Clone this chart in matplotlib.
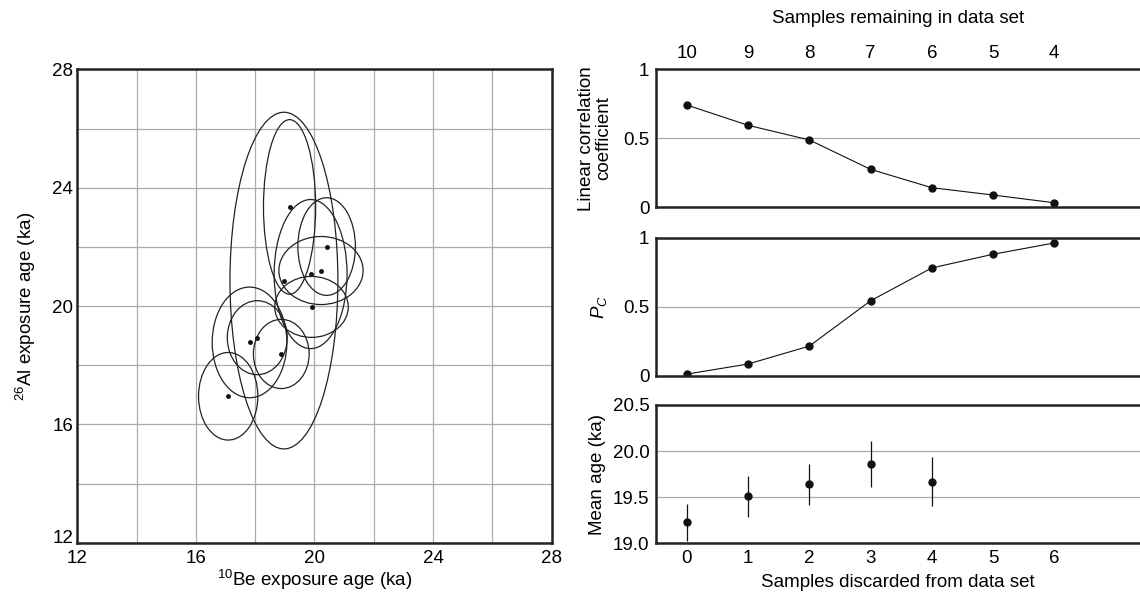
import numpy as np
import matplotlib.pyplot as plt
from matplotlib.patches import Ellipse

plt.rcParams['font.family'] = ['Liberation Sans', 'DejaVu Sans']
plt.rcParams['mathtext.fontset'] = 'custom'
plt.rcParams['mathtext.rm'] = 'Liberation Sans'
plt.rcParams['mathtext.it'] = 'Liberation Sans:italic'
fs = 13.5
plt.rcParams['font.size'] = fs

# %% Data
be10_age = [19.16, 20.41, 20.22, 19.87, 18.97, 19.90, 18.07, 17.81, 18.88, 17.09]
al26_age = [23.35, 22.01, 21.20, 21.08, 20.86, 19.97, 18.93, 18.77, 18.38, 16.95]
be10_err = [0.88, 0.97, 1.42, 1.23, 1.82, 1.24, 1.01, 1.26, 0.94, 1.00]
al26_err = [2.95, 1.65, 1.15, 2.52, 5.69, 1.03, 1.25, 1.87, 1.17, 1.48]

discarded = [0, 1, 2, 3, 4, 5, 6]
remaining = ['10', '9', '8', '7', '6', '5', '4']
corr_coef = [0.741, 0.594, 0.488, 0.275, 0.142, 0.089, 0.033]
p_c = [0.012, 0.085, 0.215, 0.543, 0.781, 0.880, 0.962]
mean_x = [0, 1, 2, 3, 4]
mean_age = [19.23, 19.51, 19.64, 19.86, 19.67]
mean_err = [0.20, 0.22, 0.225, 0.245, 0.27]

gridc = '#ababab'
spine_lw = 1.8

# %% Figure
fig = plt.figure(figsize=(11.4, 6.03), dpi=100)

# Left: ellipse plot
axL = fig.add_axes([0.0678, 0.100, 0.4161, 0.785])
axL.set_xlim(12, 28)
axL.set_ylim(12, 28)
axL.set_xticks(np.arange(12, 29, 2), minor=True)
axL.set_yticks(np.arange(12, 29, 2), minor=True)
axL.set_xticks([12, 16, 20, 24, 28])
axL.set_yticks([12, 16, 20, 24, 28])
axL.grid(which='both', color=gridc, lw=0.9)
axL.set_axisbelow(True)
axL.tick_params(which='both', length=0, pad=3, labelsize=fs)
axL.tick_params(axis='x', pad=5)
for s in axL.spines.values():
    s.set_linewidth(spine_lw)
    s.set_color('#222222')
# corner label sits on the axis line, like the reference
axL.get_yticklabels()[0].set_va('baseline')

for xc, yc, ex, ey in zip(be10_age, al26_age, be10_err, al26_err):
    axL.add_patch(Ellipse((xc, yc), 2 * ex, 2 * ey, fill=False,
                          edgecolor='#222222', lw=0.9))
axL.plot(be10_age, al26_age, 'o', color='#111111', ms=2.5)

axL.set_xlabel(r'$^{10}$Be exposure age (ka)', fontsize=fs, labelpad=1)
axL.set_ylabel(r'$^{26}$Al exposure age (ka)', fontsize=fs, labelpad=10)


def style_right(ax):
    ax.set_xlim(-0.5, 7.4)
    ax.grid(axis='y', color=gridc, lw=0.9)
    ax.set_axisbelow(True)
    ax.tick_params(length=0, pad=5, labelsize=fs)
    ax.spines['right'].set_visible(False)
    for k in ['left', 'top', 'bottom']:
        ax.spines[k].set_linewidth(spine_lw)
        ax.spines[k].set_color('#222222')


# Top: correlation coefficient
ax1 = fig.add_axes([0.5757, 0.6562, 0.4243, 0.2289])
style_right(ax1)
ax1.set_ylim(0, 1)
ax1.set_yticks([0, 0.5, 1])
ax1.set_yticklabels(['0', '0.5', '1'])
ax1.plot(discarded, corr_coef, '-o', color='#111111', lw=0.8, ms=5)
ax1.xaxis.tick_top()
ax1.set_xticks(discarded)
ax1.set_xticklabels(remaining)
ax1.xaxis.set_label_position('top')
ax1.set_xlabel('Samples remaining in data set', fontsize=fs, labelpad=16)
ax1.set_ylabel('Linear correlation\ncoefficient', fontsize=fs, labelpad=8,
               linespacing=1.0)

# Middle: P_C
ax2 = fig.add_axes([0.5757, 0.3769, 0.4243, 0.2289])
style_right(ax2)
ax2.set_ylim(0, 1)
ax2.set_yticks([0, 0.5, 1])
ax2.set_yticklabels(['0', '0.5', '1'])
ax2.set_xticks([])
ax2.plot(discarded, p_c, '-o', color='#111111', lw=0.8, ms=5)
ax2.set_ylabel(r'$P_C$', fontsize=fs, labelpad=10)

# Bottom: mean age
ax3 = fig.add_axes([0.5757, 0.0990, 0.4243, 0.2294])
style_right(ax3)
ax3.set_ylim(19.0, 20.5)
ax3.set_yticks([19.0, 19.5, 20.0, 20.5])
ax3.set_yticklabels(['19.0', '19.5', '20.0', '20.5'])
ax3.set_xticks(discarded)
ax3.errorbar(mean_x, mean_age, yerr=mean_err, fmt='o', color='#111111',
             ms=5, elinewidth=0.9, capsize=0)
ax3.set_xlabel('Samples discarded from data set', fontsize=fs, labelpad=5)
ax3.set_ylabel('Mean age (ka)', fontsize=fs, labelpad=5)

fig.savefig('out.png', dpi=100)
